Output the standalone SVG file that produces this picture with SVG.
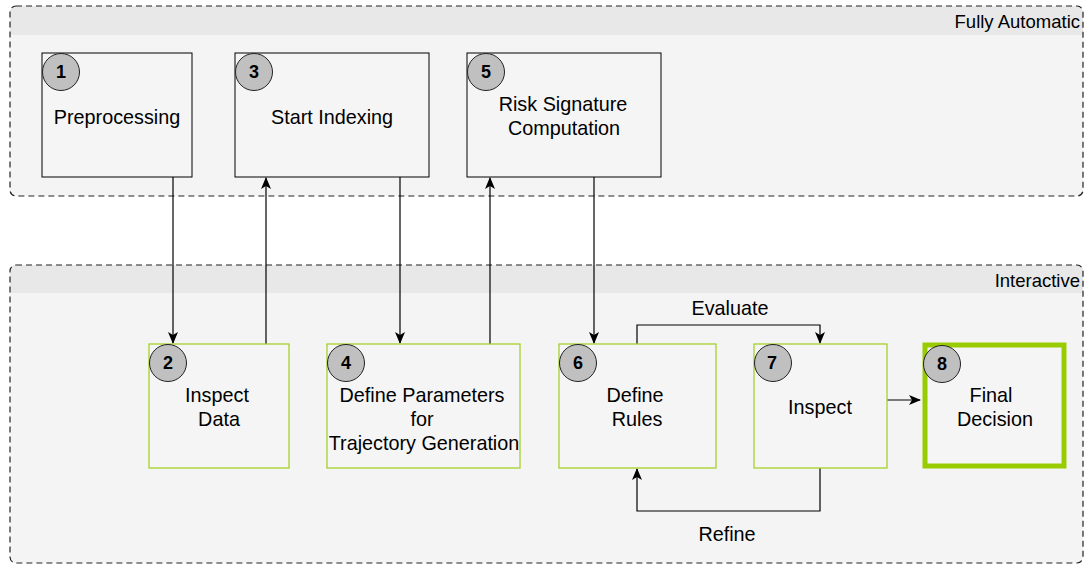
<svg xmlns="http://www.w3.org/2000/svg" width="1085" height="565" viewBox="0 0 1085 565">
<style>
.t{font-family:"Liberation Sans",Arial,sans-serif;font-size:19.8px;fill:#000;text-anchor:middle}
.n{font-family:"Liberation Sans",Arial,sans-serif;font-size:18px;font-weight:bold;fill:#000;text-anchor:middle}
.h{font-family:"Liberation Sans",Arial,sans-serif;font-size:18.5px;fill:#000;text-anchor:end}
.auto{fill:#f5f5f5;stroke:#000;stroke-width:1}
.inter{fill:#f5f5f5;stroke:#a6d12a;stroke-width:1.3}
.c{fill:#c0c0c0;stroke:#222;stroke-width:1}
.e{fill:none;stroke:#000;stroke-width:1.2}
.lane{fill:none;stroke:#222;stroke-width:1.2;stroke-dasharray:6,4}
</style>
<defs>
<marker id="a" viewBox="0 0 12 12" refX="11" refY="6" markerWidth="12" markerHeight="12" orient="auto" markerUnits="userSpaceOnUse">
<path d="M0,1 L12,6 L0,11 L3,6 Z" fill="#000"/>
</marker>
</defs>
<rect width="1085" height="565" fill="#fff"/>
<g id="lane-auto">
<rect x="10" y="6" width="1073" height="190" rx="6" fill="#f4f4f4"/>
<path d="M10,35 V12 a6,6 0 0 1 6,-6 H1077 a6,6 0 0 1 6,6 V35 Z" fill="#e8e8e8"/>
<rect class="lane" x="10" y="6" width="1073" height="190" rx="6"/>
<text class="h" x="1080" y="28">Fully Automatic</text>
</g>
<g id="lane-inter">
<rect x="10" y="265" width="1073" height="298" rx="6" fill="#f4f4f4"/>
<path d="M10,293 V271 a6,6 0 0 1 6,-6 H1077 a6,6 0 0 1 6,6 V293 Z" fill="#e8e8e8"/>
<rect class="lane" x="10" y="265" width="1073" height="298" rx="6"/>
<text class="h" x="1080" y="287">Interactive</text>
</g>
<g id="connectors">
<path class="e" d="M173,177 V343" marker-end="url(#a)"/>
<path class="e" d="M266,344 V178" marker-end="url(#a)"/>
<path class="e" d="M400,177 V343" marker-end="url(#a)"/>
<path class="e" d="M490,344 V178" marker-end="url(#a)"/>
<path class="e" d="M594,177 V343" marker-end="url(#a)"/>
<path class="e" d="M637,344 V325 H820 V343" marker-end="url(#a)"/>
<text class="t" x="730" y="315">Evaluate</text>
<path class="e" d="M820,468 V511 H637 V469" marker-end="url(#a)"/>
<text class="t" x="727" y="541">Refine</text>
<path class="e" d="M887,400 H920" marker-end="url(#a)"/>
</g>
<g id="n1">
<rect class="auto" x="42" y="53" width="150" height="124"/>
<circle class="c" cx="61" cy="72" r="18.5"/>
<text class="n" x="61" y="78">1</text>
<text class="t" x="117" y="124">Preprocessing</text>
</g>
<g id="n3">
<rect class="auto" x="235" y="53" width="194" height="124"/>
<circle class="c" cx="254" cy="72" r="18.5"/>
<text class="n" x="254" y="78">3</text>
<text class="t" x="332" y="124">Start Indexing</text>
</g>
<g id="n5">
<rect class="auto" x="467" y="53" width="194" height="124"/>
<circle class="c" cx="486" cy="72" r="18.5"/>
<text class="n" x="486" y="78">5</text>
<text class="t" x="563" y="111">Risk Signature</text>
<text class="t" x="564" y="135">Computation</text>
</g>
<g id="n2">
<rect class="inter" x="149" y="344" width="140" height="124"/>
<circle class="c" cx="168" cy="363" r="18.5"/>
<text class="n" x="168" y="369">2</text>
<text class="t" x="217" y="402">Inspect</text>
<text class="t" x="219" y="426">Data</text>
</g>
<g id="n4">
<rect class="inter" x="327" y="344" width="193" height="124"/>
<circle class="c" cx="346" cy="363" r="18.5"/>
<text class="n" x="346" y="369">4</text>
<text class="t" x="422" y="402">Define Parameters</text>
<text class="t" x="422" y="426">for</text>
<text class="t" x="424" y="450">Trajectory Generation</text>
</g>
<g id="n6">
<rect class="inter" x="559" y="344" width="157" height="124"/>
<circle class="c" cx="578" cy="363" r="18.5"/>
<text class="n" x="578" y="369">6</text>
<text class="t" x="635" y="402">Define</text>
<text class="t" x="637" y="426">Rules</text>
</g>
<g id="n7">
<rect class="inter" x="754" y="344" width="133" height="124"/>
<circle class="c" cx="773" cy="363" r="18.5"/>
<text class="n" x="772" y="369">7</text>
<text class="t" x="820" y="414">Inspect</text>
</g>
<g id="n8">
<rect x="925" y="345" width="139" height="121" fill="#f5f5f5" stroke="#99cc00" stroke-width="5"/>
<circle class="c" cx="942" cy="364" r="18.5"/>
<text class="n" x="942" y="370">8</text>
<text class="t" x="991" y="402">Final</text>
<text class="t" x="995" y="426">Decision</text>
</g>
</svg>
